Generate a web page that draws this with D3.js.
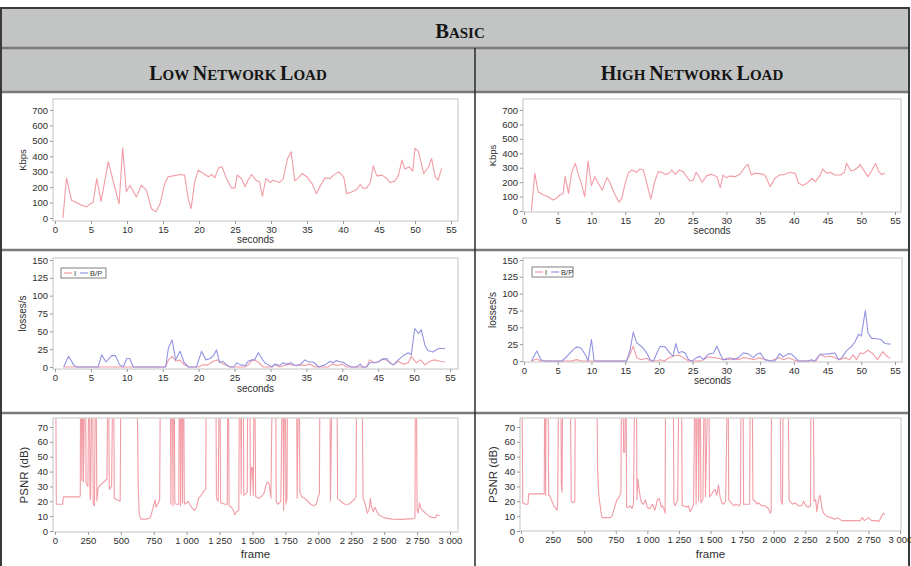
<!DOCTYPE html>
<html>
<head>
<meta charset="utf-8">
<script src="https://cdn.jsdelivr.net/npm/d3@7"></script>
<style>
  body { margin: 0; background: #fff; }
  svg { display: block; }
</style>
</head>
<body>
<svg id="chart" width="911" height="566"></svg>
<script>
// headers
var mainTitle = "BASIC";
var colTitles = ["LOW NETWORK LOAD", "HIGH NETWORK LOAD"];

// tick labels
var secondTicks = [0, 5, 10, 15, 20, 25, 30, 35, 40, 45, 50, 55];
var kbpsTicks = [0, 100, 200, 300, 400, 500, 600, 700];
var lossTicks = [0, 25, 50, 75, 100, 125, 150];
var psnrTicks = [0, 10, 20, 30, 40, 50, 60, 70];
var frameTicks = [0, 250, 500, 750, 1000, 1250, 1500, 1750, 2000, 2250, 2500, 2750, 3000];
var legendLabels = ["I", "B/P"];

// bitrate [seconds, Kbps]
var kbpsLow = [[1.1,0],[1.6,260],[2.3,115],[3.0,100],[3.7,82],[4.4,72],[4.9,93],[5.3,100],[5.8,255],[6.4,108],[7.4,365],[8.1,235],[8.9,93],[9.4,455],[9.9,170],[10.4,212],[11.3,137],[12.0,212],[12.7,180],[13.4,60],[14.0,40],[14.6,93],[15.2,217],[15.7,267],[16.4,273],[17.4,282],[18.0,278],[18.5,126],[18.9,61],[19.4,234],[19.9,310],[20.6,288],[21.3,267],[21.8,282],[22.2,260],[22.7,325],[23.2,332],[23.8,256],[24.5,195],[25.0,195],[25.3,278],[25.9,256],[26.4,202],[26.8,245],[27.3,282],[27.9,245],[28.4,234],[28.8,141],[29.3,256],[29.9,230],[30.3,245],[31.2,230],[31.7,256],[32.3,386],[32.8,430],[33.3,241],[33.8,260],[34.3,288],[35.0,267],[35.7,223],[36.3,158],[36.9,212],[37.5,260],[38.2,256],[38.7,278],[39.4,299],[40.1,267],[40.5,158],[41.2,169],[41.9,184],[42.4,217],[42.8,191],[43.3,195],[43.8,230],[44.2,338],[44.7,273],[45.4,278],[46.1,256],[46.5,230],[47.2,239],[47.7,278],[48.2,375],[48.6,317],[49.2,332],[49.7,304],[50.0,451],[50.5,430],[51.2,288],[51.9,332],[52.3,386],[52.8,267],[53.2,245],[53.7,321]];
var kbpsHigh = [[1.1,0],[1.6,261],[2.1,134],[2.9,111],[3.6,99],[4.3,76],[4.8,88],[5.3,111],[5.8,122],[6.1,238],[6.6,122],[7.1,273],[7.6,330],[8.1,249],[8.5,192],[9.0,99],[9.5,346],[10.0,176],[10.5,238],[11.0,192],[11.6,145],[12.3,231],[12.7,203],[13.5,111],[14.1,60],[14.5,88],[15.0,192],[15.5,268],[16.0,284],[16.7,268],[17.2,291],[17.7,284],[18.2,192],[18.8,83],[19.3,192],[19.9,273],[20.4,268],[20.9,254],[21.5,261],[21.9,284],[22.4,254],[23.0,284],[23.6,273],[24.1,238],[24.6,208],[25.1,215],[25.5,268],[25.8,249],[26.4,199],[27.1,245],[27.8,254],[28.6,238],[29.1,162],[29.5,249],[30.0,231],[30.5,242],[31.3,238],[32.0,254],[32.8,307],[33.2,323],[33.7,249],[34.2,261],[35.0,259],[35.7,249],[36.5,169],[37.2,226],[37.9,249],[38.7,254],[39.4,268],[40.2,261],[40.7,192],[41.4,176],[42.1,199],[42.7,226],[43.2,203],[43.9,249],[44.3,291],[44.9,261],[45.4,268],[46.1,249],[46.9,249],[47.5,268],[47.8,330],[48.5,277],[49.0,284],[49.6,307],[49.8,323],[50.5,273],[51.0,238],[51.6,284],[52.1,330],[52.6,273],[53.0,254],[53.5,261]];

// losses [seconds, losses/s]
var lossLowI = [[1.2,0],[15.4,0],[15.8,10],[16.3,15],[16.8,8],[17.4,10],[18.0,3],[18.6,0],[20.0,0],[20.6,3],[21.3,3],[22.0,8],[22.7,10],[23.1,6],[23.9,2],[24.4,0],[26.5,0],[26.9,3],[27.4,9],[27.8,10],[28.4,6],[29.0,0],[30.2,0],[30.6,3],[31.3,0],[32.0,2],[32.6,4],[33.4,2],[34.1,3],[34.8,2],[35.5,4],[36.2,0],[38.0,0],[38.6,4],[39.4,2],[40.0,4],[40.6,0],[43.4,0],[43.8,10],[44.5,6],[45.2,8],[45.7,12],[46.4,8],[47.1,3],[47.8,8],[48.5,4],[49.2,6],[49.6,15],[50.3,6],[50.9,10],[51.5,3],[52.2,8],[52.8,10],[53.6,8],[54.3,7]];
var lossLowBP = [[1.2,0],[1.9,15],[2.6,3],[3.0,0],[6.0,0],[6.5,17],[7.1,7],[7.9,16],[8.4,16],[9.0,3],[9.5,0],[10.0,12],[10.4,12],[10.9,0],[15.4,0],[15.8,27],[16.3,38],[16.8,10],[17.4,22],[18.0,6],[18.6,0],[19.7,0],[20.4,22],[21.0,10],[21.6,12],[22.0,15],[22.5,24],[22.9,6],[23.4,8],[23.9,3],[24.4,0],[24.9,0],[25.3,6],[25.8,3],[26.5,2],[26.9,8],[27.4,10],[27.8,10],[28.3,20],[28.8,12],[29.2,6],[29.7,3],[30.2,0],[30.6,4],[31.3,2],[31.8,6],[32.2,4],[32.9,6],[33.4,2],[34.1,3],[34.8,10],[35.3,7],[36.0,7],[36.7,0],[37.6,3],[38.3,8],[38.7,6],[39.2,9],[39.7,7],[40.1,7],[40.6,3],[41.3,0],[42.0,0],[42.5,4],[42.8,0],[43.4,0],[43.8,6],[44.5,6],[45.0,7],[45.4,10],[46.2,12],[46.6,6],[47.1,3],[47.8,10],[48.5,16],[49.2,20],[49.6,17],[50.1,54],[50.6,47],[51.0,52],[51.5,31],[51.9,23],[52.6,21],[53.4,26],[54.3,26]];
var lossHighI = [[1.1,0],[1.9,3],[2.5,0],[7.0,0],[7.8,2],[8.5,0],[15.2,0],[15.7,10],[16.2,22],[16.7,5],[17.4,2],[18.2,4],[18.7,0],[19.7,0],[20.2,2],[20.8,0],[21.4,4],[22.1,7],[22.9,9],[23.6,5],[24.4,0],[26.0,0],[26.6,2],[27.3,6],[28.1,5],[28.8,4],[29.5,2],[30.0,4],[30.5,2],[31.0,4],[31.8,2],[32.5,5],[33.2,4],[34.0,2],[35.0,5],[35.7,2],[36.5,0],[37.9,5],[38.5,2],[39.2,5],[39.9,2],[40.5,0],[43.3,0],[43.9,10],[44.6,6],[45.4,7],[46.1,5],[46.8,2],[47.6,5],[48.3,2],[48.8,9],[49.3,2],[49.8,12],[50.3,11],[51.0,16],[51.8,10],[52.4,2],[53.2,14],[53.8,7],[54.3,4]];
var lossHighBP = [[1.1,0],[1.9,15],[2.5,2],[3.1,0],[5.6,0],[6.3,6],[7.1,15],[7.8,21],[8.5,19],[9.2,7],[9.5,0],[10.0,32],[10.4,0],[15.2,0],[15.7,15],[16.2,43],[16.7,27],[17.4,22],[18.2,12],[18.7,2],[19.2,0],[19.7,12],[20.2,22],[20.9,21],[21.6,12],[22.1,7],[22.5,26],[22.9,12],[23.4,14],[23.9,12],[24.4,2],[24.9,0],[25.6,5],[26.1,7],[26.6,2],[27.3,10],[28.1,12],[28.6,22],[29.1,10],[29.5,2],[30.0,2],[30.5,5],[31.0,2],[31.8,5],[32.5,12],[33.2,11],[34.0,5],[34.5,10],[35.0,12],[35.7,2],[36.7,0],[37.2,0],[37.9,11],[38.4,6],[39.2,11],[39.7,10],[40.2,5],[40.7,0],[42.1,0],[42.6,2],[43.1,0],[43.9,10],[44.6,10],[45.4,11],[46.1,12],[46.6,2],[47.1,5],[47.8,15],[48.6,22],[49.1,29],[49.6,40],[50.0,37],[50.6,75],[51.0,42],[51.5,34],[52.3,33],[52.9,32],[53.5,26],[54.3,25]];

// PSNR [frame, dB]; 100 = identical frame (off the top of the plot)
var psnrLow = [[0,100],[6,100],[10,18],[58,18],[64,23],[188,23],[192,24],[194,100],[200,100],[204,34],[207,100],[212,100],[216,33],[225,100],[232,100],[236,32],[250,30],[256,100],[262,100],[266,24],[270,21],[280,100],[286,100],[290,18],[300,17],[306,100],[312,100],[318,20],[328,29],[345,31],[370,33],[395,35],[400,100],[408,100],[412,28],[430,30],[438,100],[446,100],[450,22],[470,21],[495,20],[500,100],[624,100],[632,30],[640,11],[652,8],[700,8],[725,9],[740,14],[760,21],[768,16],[780,18],[795,21],[800,100],[876,100],[880,18],[884,100],[892,100],[896,17],[900,100],[906,100],[910,19],[918,18],[940,18],[944,100],[950,100],[954,17],[958,100],[964,100],[968,19],[972,100],[978,100],[982,18],[1000,19],[1010,20],[1030,17],[1045,15],[1060,14],[1075,16],[1090,22],[1110,24],[1130,27],[1145,28],[1148,100],[1222,100],[1226,22],[1240,20],[1246,100],[1252,100],[1258,19],[1290,18],[1308,18],[1312,100],[1318,100],[1322,17],[1340,16],[1355,14],[1365,11],[1380,13],[1396,14],[1400,100],[1410,100],[1414,25],[1418,100],[1430,100],[1434,24],[1460,26],[1464,100],[1480,100],[1484,24],[1492,43],[1500,42],[1506,24],[1512,100],[1518,100],[1524,23],[1550,22],[1577,24],[1590,26],[1602,31],[1614,33],[1626,32],[1640,22],[1650,100],[1676,100],[1680,20],[1692,18],[1715,20],[1726,100],[1732,100],[1736,14],[1744,100],[1750,100],[1754,18],[1762,22],[1766,100],[1835,100],[1839,22],[1850,100],[1856,100],[1860,26],[1875,23],[1897,22],[1920,20],[1942,18],[1965,17],[1985,18],[1998,23],[2008,25],[2012,100],[2088,100],[2092,20],[2104,100],[2142,100],[2146,22],[2170,20],[2200,18],[2232,18],[2258,20],[2272,21],[2286,23],[2291,100],[2332,100],[2340,22],[2360,17],[2372,12],[2385,14],[2395,22],[2402,17],[2417,13],[2430,16],[2445,13],[2460,11],[2497,9],[2560,8],[2624,7.8],[2725,8.3],[2734,9],[2737,100],[2745,100],[2750,14],[2758,12],[2768,19],[2780,15],[2813,12],[2850,9.5],[2888,8.7],[2901,11],[2921,10]];
var psnrHigh = [[0,100],[8,100],[14,19],[34,18],[55,18],[61,25],[179,25],[184,25],[187,100],[192,100],[195,24],[198,100],[214,100],[219,24],[226,24],[240,21],[255,18],[275,15],[285,14],[290,17],[298,100],[316,100],[319,31],[325,26],[330,100],[390,100],[398,20],[416,19],[426,20],[430,100],[601,100],[606,42],[616,24],[633,13],[641,9],[707,9],[720,10],[741,16],[759,21],[778,23],[791,26],[795,100],[808,100],[812,53],[822,53],[826,100],[832,100],[836,16],[852,16],[865,17],[878,15],[890,18],[900,100],[914,100],[918,21],[925,35],[935,28],[945,22],[955,19],[970,18],[985,21],[1000,16],[1020,15],[1040,18],[1060,14],[1080,21],[1095,22],[1110,16],[1120,17],[1135,14],[1141,12],[1144,100],[1205,100],[1210,19],[1220,17],[1240,21],[1250,100],[1270,100],[1276,17],[1287,17],[1313,16],[1325,17],[1339,13],[1352,15],[1366,18],[1376,100],[1382,100],[1386,18],[1396,100],[1402,100],[1406,20],[1414,100],[1420,100],[1424,19],[1440,21],[1450,100],[1456,100],[1460,23],[1480,100],[1487,100],[1492,23],[1510,25],[1524,27],[1537,28],[1550,24],[1563,31],[1576,23],[1590,19],[1603,18],[1620,20],[1634,100],[1640,100],[1644,21],[1664,19],[1683,17],[1700,18],[1727,17],[1738,19],[1742,100],[1758,100],[1762,18],[1790,18],[1810,18],[1814,100],[1830,100],[1836,21],[1854,20],[1866,18],[1880,19],[1906,17],[1930,17],[1959,15],[1972,12],[1980,13],[1983,100],[2051,100],[2058,20],[2070,18],[2076,100],[2115,100],[2122,21],[2130,20],[2150,18],[2170,19],[2195,17],[2222,17],[2236,20],[2255,17],[2276,16],[2292,17],[2295,100],[2313,100],[2320,20],[2333,21],[2341,13],[2350,18],[2360,23],[2368,24],[2381,16],[2394,12],[2420,10],[2450,9],[2486,8],[2507,9],[2539,7],[2592,7],[2684,7],[2702,9],[2718,7],[2737,8],[2750,9],[2776,7],[2810,7],[2834,6.5],[2855,10],[2868,12],[2881,11]];

var redLine = "#f29ca5",
    blueLine = "#9393e2";

var svg = d3.select("#chart");
var frameFmt = d3.formatLocale({decimal: ",", thousands: "\u00a0", grouping: [3], currency: ["", ""]}).format(",d");
var sans = "'Liberation Sans', Arial, sans-serif";

////////// table //////////
var grid = svg.append("g");
grid.append("rect").attr("x", 1).attr("y", 8).attr("width", 908).attr("height", 84).attr("fill", "#c3c5c5");

// small caps written out: first letter of each word large, the rest smaller
function capsText(str, x, y, big, small) {
  var t = svg.append("text")
    .attr("x", x).attr("y", y)
    .attr("text-anchor", "middle")
    .attr("fill", "#151515")
    .style("font-family", "'Liberation Serif', 'Times New Roman', serif")
    .style("font-weight", "bold")
    .style("white-space", "pre");
  var words = str.split(" ");
  words.forEach(function(w, i) {
    t.append("tspan").attr("font-size", big).text(w[0]);
    t.append("tspan").attr("font-size", small).text(w.slice(1) + (i < words.length - 1 ? " " : ""));
  });
}
capsText(mainTitle, 460, 37.5, 20.5, 15);
capsText(colTitles[0], 238, 80, 20, 15);
capsText(colTitles[1], 692, 80, 20, 15);

[48, 92, 250, 413].forEach(function(y) {
  grid.append("line").attr("x1", 1).attr("x2", 909).attr("y1", y).attr("y2", y)
    .attr("stroke", "#7a7a7a").attr("stroke-width", 2.5);
});
grid.append("line").attr("x1", 475).attr("x2", 475).attr("y1", 48).attr("y2", 566)
  .attr("stroke", "#2a2a2a").attr("stroke-width", 1.5);
grid.append("rect").attr("x", 1).attr("y", 8).attr("width", 908).attr("height", 570)
  .attr("fill", "none").attr("stroke", "#3a3a3a").attr("stroke-width", 2);

////////// charts //////////
var charts = [
  {id: "kl", box: [53, 99, 458, 221], xr: [55, 451], yr: [218, 110], xd: [0, 55], yd: [0, 700],
   xt: secondTicks, yt: kbpsTicks, xl: "seconds", yl: "Kbps", xlY: 243, ylX: 23, xs: 10, ys: 9.5,
   series: [[kbpsLow, redLine]]},
  {id: "kh", box: [523, 99, 901, 212], xr: [524, 895], yr: [211, 110], xd: [0, 55], yd: [0, 700],
   xt: secondTicks, yt: kbpsTicks, xl: "seconds", yl: "Kbps", xlY: 234, ylX: 493, xs: 10, ys: 9.5,
   series: [[kbpsHigh, redLine]]},
  {id: "ll", box: [53, 258, 458, 369], xr: [55, 450], yr: [367, 260], xd: [0, 55], yd: [0, 150],
   xt: secondTicks, yt: lossTicks, xl: "seconds", yl: "losses/s", xlY: 392, ylX: 22, xs: 10, ys: 10,
   series: [[lossLowI, redLine], [lossLowBP, blueLine]], legend: [61, 268, 45]},
  {id: "lh", box: [523, 258, 902, 362], xr: [524, 895], yr: [361, 260], xd: [0, 55], yd: [0, 150],
   xt: secondTicks, yt: lossTicks, xl: "seconds", yl: "losses/s", xlY: 384, ylX: 492, xs: 10, ys: 10,
   series: [[lossHighI, redLine], [lossHighBP, blueLine]], legend: [532, 267, 41]},
  {id: "pl", box: [53, 418, 458, 532], xr: [55, 450], yr: [531, 427], xd: [0, 3000], yd: [0, 70],
   xt: frameTicks, yt: psnrTicks, xl: "frame", yl: "PSNR (dB)", xlY: 558, ylX: 24, xs: 11.5, ys: 11.5,
   fmt: frameFmt, series: [[psnrLow, redLine]]},
  {id: "ph", box: [520, 418, 901, 531], xr: [521, 900], yr: [531, 427], xd: [0, 3000], yd: [0, 70],
   xt: frameTicks, yt: psnrTicks, xl: "frame", yl: "PSNR (dB)", xlY: 558, ylX: 493, xs: 11.5, ys: 11.5,
   fmt: frameFmt, series: [[psnrHigh, redLine]]}
];

charts.forEach(function(c) {
  var b = c.box;
  var x = d3.scaleLinear().domain(c.xd).range(c.xr);
  var y = d3.scaleLinear().domain(c.yd).range(c.yr);
  var g = svg.append("g");

  g.append("rect").attr("x", b[0]).attr("y", b[1]).attr("width", b[2] - b[0]).attr("height", b[3] - b[1])
    .attr("fill", "#fff").attr("stroke", "#c4c4c4").attr("stroke-width", 1);

  g.append("clipPath").attr("id", "clip-" + c.id)
    .append("rect").attr("x", b[0]).attr("y", b[1] + 0.5).attr("width", b[2] - b[0]).attr("height", b[3] - b[1] - 0.5);

  var xAxis = d3.axisBottom(x).tickValues(c.xt).tickSize(3).tickPadding(2);
  if (c.fmt) xAxis.tickFormat(c.fmt);
  var xa = g.append("g").attr("transform", "translate(0," + b[3] + ")").call(xAxis);
  var ya = g.append("g").attr("transform", "translate(" + b[0] + ",0)")
    .call(d3.axisLeft(y).tickValues(c.yt).tickSize(3).tickPadding(2));
  [xa, ya].forEach(function(a) {
    a.select(".domain").remove();
    a.selectAll(".tick line").attr("stroke", "#9a9a9a");
    a.selectAll("text").attr("fill", "#2e2e2e")
      .style("font-family", sans).style("font-size", "9.5px");
  });

  g.append("text")
    .attr("x", (b[0] + b[2]) / 2).attr("y", c.xlY)
    .attr("text-anchor", "middle").attr("fill", "#2e2e2e")
    .style("font-family", sans).style("font-size", c.xs + "px")
    .text(c.xl);
  g.append("text")
    .attr("transform", "translate(" + c.ylX + "," + (b[1] + b[3]) / 2 + ") rotate(-90)")
    .attr("text-anchor", "middle").attr("dy", "0.35em").attr("fill", "#2e2e2e")
    .style("font-family", sans).style("font-size", c.ys + "px")
    .text(c.yl);

  var line = d3.line().x(function(d) { return x(d[0]); }).y(function(d) { return y(d[1]); });
  var plot = g.append("g").attr("clip-path", "url(#clip-" + c.id + ")");
  c.series.forEach(function(s) {
    plot.append("path").datum(s[0])
      .attr("d", line)
      .attr("fill", "none").attr("stroke", s[1]).attr("stroke-width", 1.1)
      .attr("stroke-linejoin", "round");
  });

  if (c.legend) {
    var L = c.legend;
    var lg = g.append("g").attr("transform", "translate(" + L[0] + "," + L[1] + ")");
    lg.append("rect").attr("width", L[2]).attr("height", 10)
      .attr("fill", "#fff").attr("stroke", "#808080").attr("stroke-width", 1);
    var cx = 3;
    legendLabels.forEach(function(lab, i) {
      lg.append("line").attr("x1", cx).attr("x2", cx + 8).attr("y1", 5).attr("y2", 5)
        .attr("stroke", i === 0 ? redLine : blueLine).attr("stroke-width", 1.2);
      var t = lg.append("text").attr("x", cx + 10).attr("y", 7.8)
        .attr("fill", "#333")
        .style("font-family", sans).style("font-size", "7.5px")
        .text(lab);
      cx += 12 + t.node().getComputedTextLength() + 2;
    });
  }
});
</script>
</body>
</html>
